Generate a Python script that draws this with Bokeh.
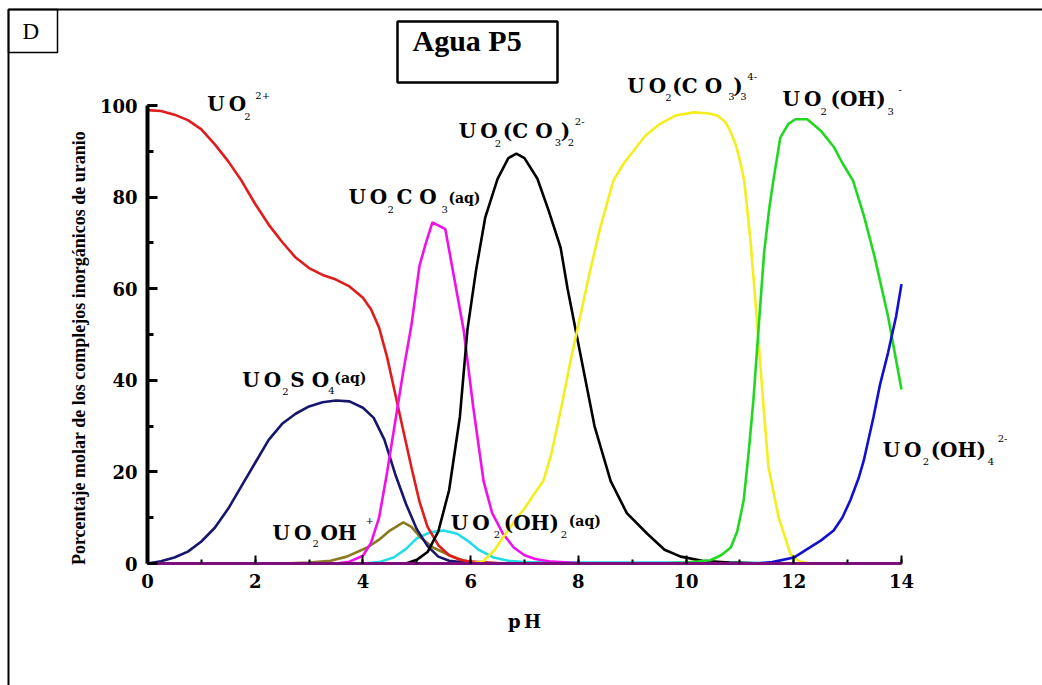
from bokeh.plotting import figure
from bokeh.models import Range1d, SingleIntervalTicker, Label, BoxAnnotation, LinearAxis
from bokeh.embed import file_html
from bokeh.resources import INLINE

# ---- speciation data: pH vs molar percentage of each inorganic uranium complex ----
ph_uo2 = [0, 0.25, 0.5, 0.75, 1.0, 1.25, 1.5, 1.75, 2.0, 2.25, 2.5, 2.75, 3.0, 3.25, 3.5,
          3.75, 4.0, 4.15, 4.3, 4.45, 4.6, 4.75, 4.9, 5.05, 5.2, 5.4, 5.6, 5.8, 6.0, 6.5, 7.0]
pct_uo2 = [99, 98.8, 98, 96.8, 94.8, 91.5, 87.8, 83.5, 78.5, 74, 70.2, 66.8, 64.5, 63, 62,
           60.5, 58, 55.5, 51.5, 45, 37, 29, 21, 13.5, 8, 4, 1.8, 0.8, 0.4, 0.1, 0]

ph_so4 = [0, 0.25, 0.5, 0.75, 1.0, 1.25, 1.5, 1.75, 2.0, 2.25, 2.5, 2.75, 3.0, 3.25, 3.5,
          3.75, 4.0, 4.2, 4.4, 4.6, 4.8, 5.0, 5.2, 5.4, 5.6, 6.0, 6.5]
pct_so4 = [0, 0.5, 1.3, 2.6, 4.8, 7.8, 12, 17, 22, 27, 30.5, 32.7, 34.3, 35.2, 35.6,
           35.4, 34, 31.8, 27, 19.5, 13, 7.5, 3.8, 1.5, 0.6, 0.1, 0]

ph_co3 = [3.5, 3.75, 4.0, 4.15, 4.3, 4.45, 4.6, 4.75, 4.9, 5.05, 5.17, 5.29, 5.53, 5.7,
          5.87, 6.05, 6.24, 6.4, 6.6, 6.8, 7.0, 7.2, 7.5, 8.0, 8.5]
pct_co3 = [0, 0.4, 1.7, 4.5, 10, 20, 31, 42, 52, 65, 70, 74.5, 73, 62,
           51, 34, 18, 11, 6.5, 3.5, 1.8, 1, 0.4, 0.1, 0]

ph_co3_2 = [4.8, 5.0, 5.2, 5.4, 5.6, 5.8, 5.94, 6.1, 6.27, 6.5, 6.7, 6.85, 7.0, 7.24, 7.45,
            7.67, 7.8, 7.95, 8.1, 8.3, 8.6, 8.9, 9.28, 9.6, 9.9, 10.3, 10.8, 11.5]
pct_co3_2 = [0, 0.8, 2.5, 7, 16, 32, 51, 64, 75.5, 84, 88.5, 89.5, 88.5, 84, 77,
             69, 60, 51, 42, 30, 18, 11, 6.5, 3, 1.5, 0.6, 0.2, 0]

ph_co3_3 = [6.0, 6.24, 6.45, 6.6, 6.8, 7.0, 7.2, 7.35, 7.5, 7.7, 7.85, 7.98, 8.2, 8.4, 8.65,
            8.85, 9.02, 9.25, 9.52, 9.8, 10.14, 10.4, 10.58, 10.72, 10.82, 10.92, 11.0,
            11.08, 11.2, 11.33, 11.42, 11.53, 11.72, 11.94, 12.1, 12.3]
pct_co3_3 = [0, 0.5, 3, 5.7, 9, 12, 15.5, 18, 24, 35, 44, 51, 63, 73, 83.6,
             87.5, 90, 93.5, 96, 97.8, 98.5, 98.3, 97.8, 96.5, 94.5, 91.5, 88,
             83.6, 70, 51, 37, 21, 10, 2, 0.5, 0]

ph_oh3 = [9.5, 10.0, 10.45, 10.65, 10.83, 10.95, 11.07, 11.16, 11.25, 11.35, 11.45, 11.55,
          11.62, 11.75, 11.9, 12.03, 12.25, 12.5, 12.74, 12.9, 13.1, 13.3, 13.5, 13.75, 14.0]
pct_oh3 = [0, 0.2, 0.7, 1.8, 3.5, 7, 13.8, 24, 35.6, 52, 68, 78,
           83.6, 93, 96, 97, 97, 94.5, 91, 87.5, 83.6, 76, 67, 54, 38]

ph_oh4 = [11.3, 11.6, 12.0, 12.3, 12.5, 12.74, 12.9, 13.05, 13.2, 13.3, 13.48, 13.6,
          13.75, 13.9, 14.0]
pct_oh4 = [0, 0.3, 1.3, 3.5, 5, 7.2, 10, 13.8, 18.5, 22.5, 32, 39, 46, 54, 61]

ph_oh = [2.5, 3.0, 3.4, 3.7, 4.08, 4.3, 4.5, 4.75, 4.9, 5.07, 5.3, 5.63, 5.85, 6.0, 6.5]
pct_oh = [0, 0.2, 0.6, 1.5, 3.5, 5.2, 7.2, 9, 8, 5.7, 3.5, 1.7, 0.7, 0.3, 0]

ph_oh2 = [4.0, 4.3, 4.57, 4.8, 5.0, 5.25, 5.5, 5.75, 5.94, 6.15, 6.43, 6.7, 7.0, 8.0,
          9.0, 10.0, 11.0, 11.5, 12.0]
pct_oh2 = [0, 0.3, 1.3, 3.2, 5.5, 6.8, 7.2, 6.5, 5, 3, 1.3, 0.6, 0.3, 0.2,
           0.2, 0.2, 0.2, 0.1, 0]

ph_minor_a = [2.3, 4.5]
pct_minor_a = [0, 0]
ph_minor_b = [0, 14]
pct_minor_b = [0, 0]

# axis extents and tick spacing
PH_MIN, PH_MAX = 0, 14
PCT_MIN, PCT_MAX = 0, 100
X_TICK_STEP = 2
Y_TICK_STEP = 20

series = [
    (ph_minor_a, pct_minor_a, "#ff8c00"),
    (ph_oh2, pct_oh2, "#22dde8"),
    (ph_oh, pct_oh, "#8a7a1e"),
    (ph_so4, pct_so4, "#16166e"),
    (ph_uo2, pct_uo2, "#e01c1c"),
    (ph_co3, pct_co3, "#f010ec"),
    (ph_co3_2, pct_co3_2, "#000000"),
    (ph_co3_3, pct_co3_3, "#f4ee1c"),
    (ph_oh3, pct_oh3, "#20d820"),
    (ph_oh4, pct_oh4, "#1010d0"),
    (ph_minor_b, pct_minor_b, "#7d0f7d"),
]

# ---- page layout: the plotting area spans the whole page, the axes sit inside it ----
W, H = 1042, 685
AX_LEFT, AX_RIGHT, AX_TOP, AX_BOTTOM = 147, 901, 105, 563   # pixel box of the pH/% axes
px_per_ph = (AX_RIGHT - AX_LEFT) / (PH_MAX - PH_MIN)
px_per_pct = (AX_BOTTOM - AX_TOP) / (PCT_MAX - PCT_MIN)

x_range = Range1d(PH_MIN - AX_LEFT / px_per_ph, PH_MAX + (W - AX_RIGHT) / px_per_ph)
y_range = Range1d(PCT_MIN - (H - AX_BOTTOM) / px_per_pct, PCT_MAX + AX_TOP / px_per_pct)

p = figure(width=W, height=H, x_range=x_range, y_range=y_range,
           output_backend="svg", toolbar_location=None,
           x_axis_location=None, y_axis_location=None,
           min_border=0, outline_line_color=None,
           background_fill_color="white", border_fill_color="white")
p.title.text = ""
p.grid.visible = False

for xs, ys, col in series:
    p.line(xs, ys, line_color=col, line_width=2.6)

# axes
TICK_FONT = "DejaVu Serif"
xaxis = LinearAxis(fixed_location=PCT_MIN, bounds=(PH_MIN, PH_MAX),
                   ticker=SingleIntervalTicker(interval=X_TICK_STEP, num_minor_ticks=2))
yaxis = LinearAxis(fixed_location=PH_MIN, bounds=(PCT_MIN, PCT_MAX),
                   ticker=SingleIntervalTicker(interval=Y_TICK_STEP, num_minor_ticks=2))
for ax in (xaxis, yaxis):
    ax.major_label_text_font = TICK_FONT
    ax.major_label_text_font_style = "bold"
    ax.major_label_text_font_size = "18px"
    ax.major_label_text_color = "black"
    ax.major_tick_out = 0
    ax.minor_tick_out = 0
    ax.major_tick_line_color = "black"
    ax.minor_tick_line_color = "black"
    ax.major_label_standoff = 10
    ax.axis_label_text_color = "black"
    ax.axis_label_text_font_style = "bold"
    ax.axis_label_text_font_size = "18px"

xaxis.axis_line_color = "#7d0f7d"
xaxis.axis_line_width = 3
xaxis.major_tick_in = 8
xaxis.minor_tick_in = 4
xaxis.major_tick_line_width = 2
xaxis.minor_tick_line_width = 2
xaxis.axis_label = "p\u2009H"
xaxis.axis_label_text_font = TICK_FONT
xaxis.axis_label_standoff = 20

yaxis.axis_line_color = "black"
yaxis.axis_line_width = 4
yaxis.major_tick_in = 10
yaxis.minor_tick_in = 6
yaxis.major_tick_line_width = 3
yaxis.minor_tick_line_width = 3
yaxis.axis_label = "Porcentaje molar de los complejos inorgánicos de uranio" + "\u00a0" * 6
yaxis.axis_label_text_font = "Liberation Serif"
yaxis.axis_label_standoff = 8

p.add_layout(xaxis, "below")
p.add_layout(yaxis, "left")


def text_label(x, y, text, font, size_px, style, dx=0, dy=0):
    """Label whose baseline sits dy px above (x, y) and dx px to its right."""
    lift = 0.3 * size_px + 2   # baseline correction for the label box
    return Label(x=x, y=y + (dy + lift) / px_per_pct, x_offset=dx, text=text,
                 text_font=font, text_font_size=f"{size_px}px", text_font_style=style,
                 text_color="black", text_align="left", text_baseline="alphabetic")


# ---- species labels: anchor (pH, %) and pieces (text, kind, dx px, dy px) ----
kinds = {
    "m": ("DejaVu Serif", 20, "bold"),
    "s": ("DejaVu Serif", 10, "normal"),
    "p": ("DejaVu Serif", 10, "normal"),
    "a": ("DejaVu Serif", 14, "bold"),
}
species_labels = [
    ((1.11, 98.5), [("U\u2009O", "m", 0, 0), ("2", "s", 37, -9), ("2+", "p", 48, 12)]),
    ((3.73, 78.2), [("U\u2009O", "m", 0, 0), ("2", "s", 39, -9), ("C O", "m", 48, 0),
                    ("3", "s", 93, -9), ("(aq)", "a", 100, 1)]),
    ((5.78, 92.6), [("U\u2009O", "m", 0, 0), ("2", "s", 36, -9), ("(C O", "m", 44, 0),
                    ("3", "s", 96, -8), (")", "m", 102, 0), ("2", "s", 109, -8),
                    ("2-", "p", 116, 13)]),
    ((8.91, 102.6), [("U\u2009O", "m", 0, 0), ("2", "s", 38, -9), ("(C O", "m", 45, 0),
                     ("3", "s", 101, -8), (")", "m", 106, 0), ("3", "s", 113, -8),
                     ("4-", "p", 120, 12)]),
    ((11.79, 99.6), [("U\u2009O", "m", 0, 0), ("2", "s", 38, -9), ("(OH)", "m", 48, 0),
                     ("3", "s", 105, -9), ("-", "p", 116, 13)]),
    ((13.65, 23.1), [("U\u2009O", "m", 0, 0), ("2", "s", 40, -9), ("(OH)", "m", 48, 0),
                     ("4", "s", 105, -9), ("2-", "p", 115, 14)]),
    ((1.76, 38.4), [("U\u2009O", "m", 0, 0), ("2", "s", 40, -9), ("S O", "m", 48, 0),
                    ("4", "s", 86, -8), ("(aq)", "a", 92, 3)]),
    ((2.32, 5.0), [("U\u2009O", "m", 0, 0), ("2", "s", 40, -8), ("OH", "m", 48, 0),
                   ("+", "p", 93, 15)]),
    ((5.63, 7.2), [("U\u2009O", "m", 0, 0), ("2", "s", 43, -9), ("(OH)", "m", 53, 0),
                   ("2", "s", 110, -9), ("(aq)", "a", 118, 3)]),
]

for (x0, y0), pieces in species_labels:
    for txt, kind, dx, dy in pieces:
        font, size, style = kinds[kind]
        p.add_layout(text_label(x0, y0, txt, font, size, style, dx, dy))

# ---- page frame and title boxes (page pixels) ----
def page_box(left, right, top, bottom, width):
    return BoxAnnotation(left=left, right=right, top=top, bottom=bottom,
                         left_units="canvas", right_units="canvas",
                         top_units="canvas", bottom_units="canvas",
                         fill_color=None, fill_alpha=0, line_color="black",
                         line_width=width, line_alpha=1)

p.add_layout(page_box(8, 1200, 9, 900, 2))
p.add_layout(page_box(8, 57, 9, 52, 1.5))
p.add_layout(page_box(397, 557, 21, 82, 2.5))

p.add_layout(text_label(-2.32, 114.2, "D", "Liberation Serif", 23, "normal"))
p.add_layout(text_label(4.92, 111.8, "Agua P5", "Liberation Serif", 30, "bold"))

open("out.html", "w").write(file_html(p, INLINE))
